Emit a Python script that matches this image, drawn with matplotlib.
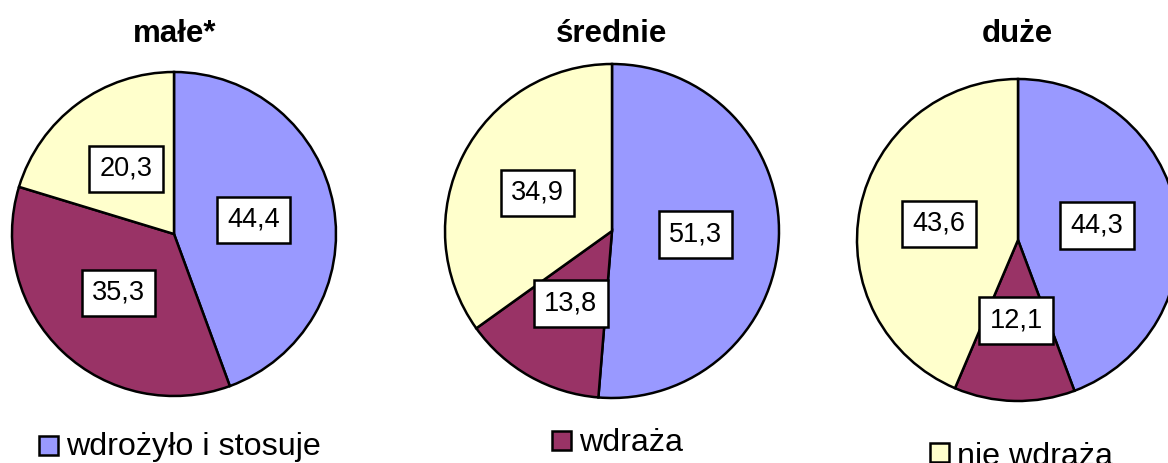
import matplotlib
matplotlib.use("Agg")
import matplotlib.pyplot as plt
from matplotlib.patches import Rectangle

plt.rcParams['font.family'] = ['Liberation Sans', 'DejaVu Sans']

groups = ["małe*", "średnie", "duże"]
categories = ["wdrożyło i stosuje", "wdraża", "nie wdraża"]
male = [44.4, 35.3, 20.3]
srednie = [51.3, 13.8, 34.9]
duze = [44.3, 12.1, 43.6]
colors = ["#9999FF", "#993366", "#FFFFCC"]

W, H = 1168, 463
fig = plt.figure(figsize=(W / 100, H / 100), dpi=100)
ax = fig.add_axes([0, 0, 1, 1])

# pie centres/radii in pixel coords (y from top)
pies = [(male, 174, 234, 162), (srednie, 612, 231, 167), (duze, 1018, 240, 161)]
title_x = [175, 612, 1017]

for (vals, cx, cy, r), name, tx in zip(pies, groups, title_x):
    labels = [f"{v:.1f}".replace(".", ",") for v in vals]
    wedges, texts = ax.pie(vals, colors=colors, startangle=90, counterclock=False,
                           center=(cx, H - cy), radius=r, labels=labels,
                           labeldistance=0.5,
                           wedgeprops=dict(edgecolor="black", linewidth=1.8),
                           textprops=dict(fontsize=19.5, ha="center", va="center"))
    for t in texts:
        t.set_bbox(dict(boxstyle="square,pad=0.38", facecolor="white",
                        edgecolor="black", linewidth=1.8))
    ax.text(tx, H - 42, name, fontsize=22.5, fontweight="bold",
            ha="center", va="baseline")

# legend items placed separately under each pie
leg = [(39, 436, 455), (552, 431, 451), (930, 443, 465)]
for (x0, top, base), cat, c in zip(leg, categories, colors):
    ax.add_patch(Rectangle((x0, H - top - 19), 19, 19, facecolor=c,
                           edgecolor="black", linewidth=1.8, clip_on=False))
    ax.text(x0 + 27, H - base, cat, fontsize=23.2, ha="left", va="baseline")

ax.set_xlim(0, W)
ax.set_ylim(0, H)
ax.set_aspect("auto")
ax.axis("off")

fig.savefig("out.png", dpi=100)
